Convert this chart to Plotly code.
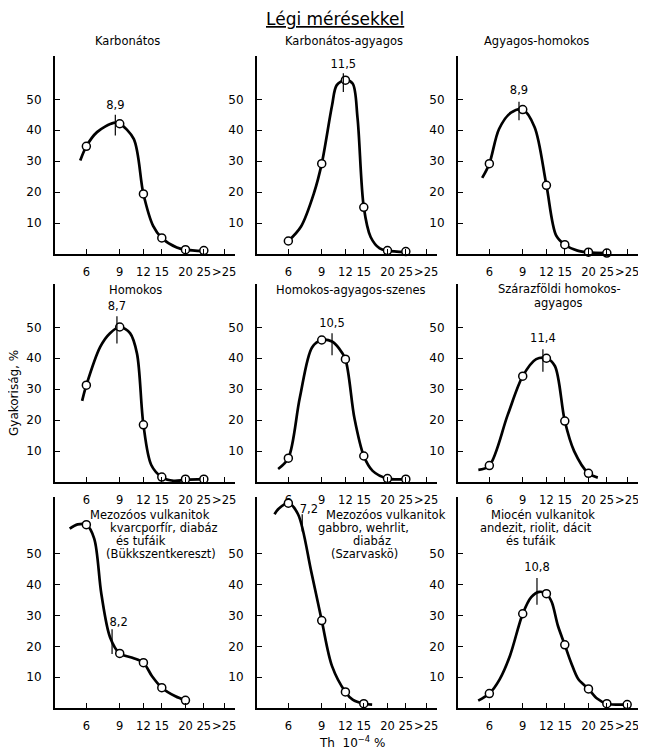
import math
import plotly.graph_objects as go

# ---------------- data ----------------
XTICK_VALS = [6, 9, 12, 15, 20, 25, 32]
XTICK_TEXT = ["6", "9", "12", "15", "20", "25", ">25"]
YTICK_VALS = [10, 20, 30, 40, 50]

# Panel 1: Karbonátos
P1_PX = [6, 9, 12, 15, 20, 25]
P1_PY = [34.8, 42.1, 19.4, 5.2, 1.4, 1.1]
P1_CX = [5.57, 6, 6.83, 8.36, 9, 10.67, 12, 13.5, 15, 18.0, 20, 25]
P1_CY = [30.2, 34.8, 39.4, 42.4, 42.1, 37.2, 19.4, 9.1, 5.2, 2.1, 1.4, 0.9]
P1_MODE = dict(label="8,9", x=8.53, y0=38.3, y1=45.0, ty=47.9)

# Panel 2: Karbonátos-agyagos
P2_PX = [6, 9, 12, 15, 20, 25]
P2_PY = [4.2, 29.2, 56.2, 15.1, 1.1, 0.8]
P2_CX = [6, 7.0, 8.2, 9, 10.2, 10.8, 12, 13.1, 13.9, 15, 16.3, 18.2, 20, 25]
P2_CY = [4.2, 8.9, 19.8, 29.2, 48, 54.6, 56.2, 55.1, 44.0, 15.1, 5.5, 1.8, 1.1, 0.6]
P2_MODE = dict(label="11,5", x=11.7, y0=52.4, y1=58.4, ty=61.0)

# Panel 3: Agyagos-homokos
P3_PX = [6, 9, 12, 15, 20, 25]
P3_PY = [29.2, 46.7, 22.2, 3.0, 0.6, 0.3]
P3_CX = [5.5, 6, 6.75, 7.8, 9, 10.4, 12, 13.5, 15, 17.5, 20, 25]
P3_CY = [24.6, 29.2, 40.4, 45.7, 46.7, 41.0, 22.2, 6.0, 3.0, 1.1, 0.5, 0.3]
P3_MODE = dict(label="8,9", x=8.6, y0=43.2, y1=49.2, ty=52.6)

# Panel 4: Homokos
P4_PX = [6, 9, 12, 15, 20, 25]
P4_PY = [31.3, 50.1, 18.5, 1.6, 0.9, 0.9]
P4_CX = [5.7, 6, 7.1, 8.0, 9, 10.2, 11.1, 12, 13.2, 15, 17.3, 20, 25]
P4_CY = [26.2, 31.3, 43.7, 48.1, 50.1, 48.1, 41.5, 18.5, 5.5, 1.6, 0.4, 0.7, 0.9]
P4_MODE = dict(label="8,7", x=8.7, y0=44.8, y1=53.6, ty=56.6)

# Panel 5: Homokos-agyagos-szenes
P5_PX = [6, 9, 12, 15, 20, 25]
P5_PY = [7.7, 45.9, 39.7, 8.4, 1.1, 0.9]
P5_CX = [5.3, 6, 6.9, 8.0, 9, 10.2, 11.1, 12, 13.4, 15, 16.7, 20, 25]
P5_CY = [4.2, 7.7, 27.3, 43.5, 45.9, 45.4, 43.2, 39.7, 20.5, 8.4, 3.6, 1.1, 0.9]
P5_MODE = dict(label="10,5", x=10.2, y0=41.0, y1=48.1, ty=51.0)

# Panel 6: Szárazföldi homokos-agyagos
P6_PX = [6, 9, 12, 15, 20]
P6_PY = [5.3, 34.2, 40.0, 19.7, 2.8]
P6_CX = [5.25, 6, 7.5, 9, 10.6, 12, 13.3, 15, 16.8, 20, 22.4]
P6_CY = [3.9, 5.3, 21.7, 34.2, 39.7, 40.0, 37.5, 19.7, 10.0, 2.8, 1.4]
P6_MODE = dict(label="11,4", x=11.5, y0=35.6, y1=42.9, ty=46.2)

# Panel 7: Mezozóos vulkanitok (Bükkszentkereszt)
P7_PX = [6, 9, 12, 15, 20]
P7_PY = [59.5, 17.7, 14.7, 6.6, 2.5]
P7_CX = [4.9, 5.4, 6, 6.6, 7.2, 8.0, 9, 10.5, 12, 13.3, 15, 17.7, 20]
P7_CY = [58.2, 59.6, 59.5, 55.0, 37.0, 23.0, 17.7, 16.3, 14.7, 10.4, 6.6, 3.8, 2.5]
P7_MODE = dict(label="8,2", x=8.2, y0=17.5, y1=25.6, ty=27.5)

# Panel 8: Mezozóos vulkanitok (Szarvaskö)
P8_PX = [6, 9, 12, 15]
P8_PY = [66.5, 28.4, 5.2, 1.4]
P8_CX = [5.07, 5.35, 6, 6.75, 7.93, 9, 10.2, 12, 13.1, 15, 16.6]
P8_CY = [62.9, 64.8, 66.5, 62.9, 44.2, 28.4, 13.6, 5.2, 2.7, 1.4, 1.1]
P8_MODE = dict(label="7,2", x=7.1, y0=57.3, y1=62.9, ty=64.4)

# Panel 9: Miocén vulkanitok
P9_PX = [6, 9, 12, 15, 20, 25, 32]
P9_PY = [4.7, 30.6, 37.1, 20.5, 6.2, 1.4, 1.1]
P9_CX = [5.24, 6, 6.8, 7.7, 9, 9.98, 11.0, 12, 12.8, 13.8, 15, 16.2, 17.7, 20, 22.2, 25, 32]
P9_CY = [2.4, 4.7, 9.3, 16.9, 30.6, 36.0, 37.7, 37.1, 34.4, 26.7, 20.5, 14.7, 9.3, 6.2, 3.1, 1.4, 1.1]
P9_MODE = dict(label="10,8", x=10.7, y0=33.5, y1=42.2, ty=45.3)

PANELS = [
    (P1_PX, P1_PY, P1_CX, P1_CY, P1_MODE),
    (P2_PX, P2_PY, P2_CX, P2_CY, P2_MODE),
    (P3_PX, P3_PY, P3_CX, P3_CY, P3_MODE),
    (P4_PX, P4_PY, P4_CX, P4_CY, P4_MODE),
    (P5_PX, P5_PY, P5_CX, P5_CY, P5_MODE),
    (P6_PX, P6_PY, P6_CX, P6_CY, P6_MODE),
    (P7_PX, P7_PY, P7_CX, P7_CY, P7_MODE),
    (P8_PX, P8_PY, P8_CX, P8_CY, P8_MODE),
    (P9_PX, P9_PY, P9_CX, P9_CY, P9_MODE),
]

# ---------------- layout ----------------
# the page body has an 8px margin, so the figure is drawn 8px in from the
# window corner; page positions are converted accordingly
OFF = 8
W, H = 646 - OFF, 751 - OFF
FONT = "DejaVu Sans"


def fx(p):
    return (p - OFF) / W


def fy(p):
    return 1 - (p - OFF) / H


COLS = [(55, 235), (257, 437), (458, 638)]
ROWS = [(56, 254, 64), (284, 482, 64), (497, 708, 68.5)]
XR = [math.log10(4.1), math.log10(36.5)]

fig = go.Figure()
layout = dict(
    width=W, height=H, margin=dict(l=0, r=0, t=0, b=0),
    paper_bgcolor="white", plot_bgcolor="white", showlegend=False,
    font=dict(family=FONT, color="black", size=12),
)

for i, (px, py, cx, cy, mode) in enumerate(PANELS):
    r, c = divmod(i, 3)
    n = "" if i == 0 else str(i + 1)
    xa, ya = "x" + n, "y" + n
    l, rr = COLS[c]
    top, bot, ymax = ROWS[r]
    layout["xaxis" + n] = dict(
        type="log", range=XR, domain=[fx(l), fx(rr)], anchor=ya,
        tickvals=XTICK_VALS, ticktext=XTICK_TEXT, ticks="inside", ticklen=5,
        tickwidth=1.2, tickcolor="black", showline=True, linecolor="black",
        linewidth=2, showgrid=False, zeroline=False, ticklabelstandoff=6,
        tickangle=0,
        tickfont=dict(size=11.5, family=FONT, color="black"),
    )
    layout["yaxis" + n] = dict(
        range=[0, ymax], domain=[fy(bot), fy(top)], anchor=xa,
        tickvals=YTICK_VALS, ticks="inside", ticklen=5, tickwidth=1.2,
        tickcolor="black", showline=True, linecolor="black", linewidth=2,
        showgrid=False, zeroline=False, ticklabelstandoff=9,
        tickfont=dict(size=12, family=FONT, color="black"),
    )
    fig.add_trace(go.Scatter(
        x=cx, y=cy, mode="lines", xaxis=xa, yaxis=ya,
        line=dict(color="black", width=2.7, shape="spline", smoothing=0.9),
        hoverinfo="skip",
    ))
    fig.add_trace(go.Scatter(
        x=px, y=py, mode="markers", xaxis=xa, yaxis=ya, cliponaxis=False,
        marker=dict(symbol="circle", size=8, color="white",
                    line=dict(color="black", width=1.5)),
    ))
    fig.add_trace(go.Scatter(
        x=[mode["x"], mode["x"]], y=[mode["y0"], mode["y1"]], mode="lines",
        xaxis=xa, yaxis=ya, line=dict(color="black", width=1.2),
        hoverinfo="skip",
    ))
    pos = "middle right" if i in (6, 7) else "middle center"
    tx = mode["x"] * (0.97 if i in (6, 7) else 1.0)
    fig.add_trace(go.Scatter(
        x=[tx], y=[mode["ty"]], mode="text", text=[mode["label"]],
        textposition=pos, xaxis=xa, yaxis=ya, cliponaxis=False,
        textfont=dict(size=11.5, family=FONT, color="black"),
        hoverinfo="skip",
    ))

# ---------------- texts ----------------
# (text, x px, y px, anchor)  -- page pixel positions
TITLES = [
    ("Karbonátos", 127, 41, "center"),
    ("Karbonátos-agyagos", 344, 41, "center"),
    ("Agyagos-homokos", 536, 41, "center"),
    ("Homokos", 135, 290, "center"),
    ("Homokos-agyagos-szenes", 350, 290, "center"),
    ("Szárazföldi homokos-", 559, 289, "center"),
    ("agyagos", 558, 303, "center"),
    ("Mezozóos vulkanitok", 150, 515, "center"),
    ("kvarcporfír, diabáz", 164, 528, "center"),
    ("és tufáik", 141, 541, "center"),
    ("(Bükkszentkereszt)", 161, 554, "center"),
    ("Mezozóos vulkanitok", 324, 515, "left"),
    ("gabbro, wehrlit,", 363, 528, "center"),
    ("diabáz", 372, 541, "center"),
    ("(Szarvaskö)", 364, 554, "center"),
    ("Miocén vulkanitok", 543, 515, "center"),
    ("andezit, riolit, dácit", 536, 528, "center"),
    ("és tufáik", 531, 541, "center"),
]
ann = []
for t, x, y, a in TITLES:
    ann.append(dict(text=t, x=fx(x), y=fy(y), xref="paper", yref="paper",
                    xanchor=a, yanchor="middle", showarrow=False,
                    font=dict(size=11.5, family=FONT, color="black")))
ann.append(dict(text="<u>Légi mérésekkel</u>", x=fx(335), y=fy(19),
                xref="paper", yref="paper", xanchor="center", yanchor="middle",
                showarrow=False, font=dict(size=17, family=FONT, color="black")))
ann.append(dict(text="Gyakoriság, %", x=fx(14), y=fy(393), textangle=-90,
                xref="paper", yref="paper", xanchor="center", yanchor="middle",
                showarrow=False, font=dict(size=12, family=FONT, color="black")))
ann.append(dict(text="Th  10<sup>−4</sup> %", x=fx(352), y=fy(742),
                xref="paper", yref="paper", xanchor="center", yanchor="middle",
                showarrow=False, font=dict(size=12, family=FONT, color="black")))
layout["annotations"] = ann

fig.update_layout(**layout)
fig.write_html("out.html")
